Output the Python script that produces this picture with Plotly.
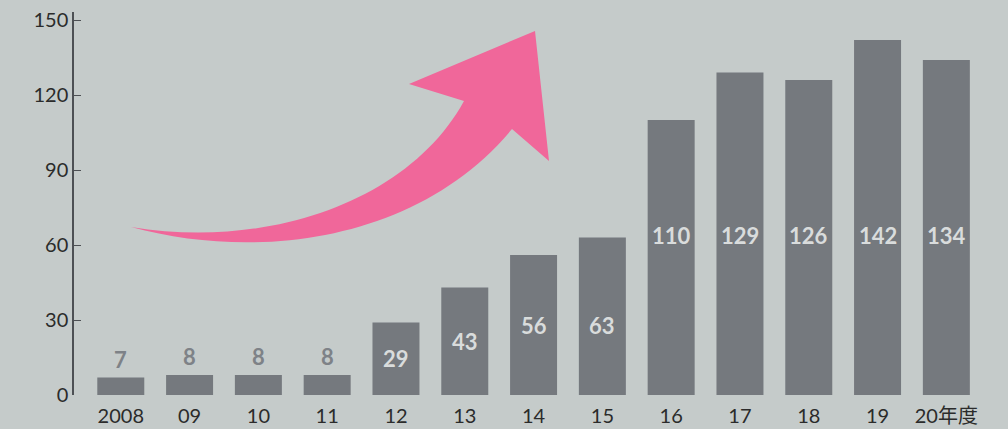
import plotly.graph_objects as go

# ---- data ----
categories = ["2008", "09", "10", "11", "12", "13", "14", "15", "16", "17", "18", "19", "20年度"]
values = [7, 8, 8, 8, 29, 43, 56, 63, 110, 129, 126, 142, 134]
y_ticks = [0, 30, 60, 90, 120, 150]

# ---- style ----
BG = "#c5cbca"
BAR = "#75797e"
IN_TXT = "#d9dcdc"
OUT_TXT = "#7e8287"
PINK = "#f0679a"
FONT = "Lato, 'Noto Sans CJK JP', sans-serif"

W, H = 1008, 429
ML, MR, MT, MB = 74, 0, 12, 34
PW, PH = W - ML - MR, H - MT - MB

fig = go.Figure()
fig.add_trace(go.Bar(x=categories, y=values, marker=dict(color=BAR, line=dict(width=0)),
                     hoverinfo="skip"))

# value labels
annotations = []
for i, v in enumerate(values):
    if v < 20:
        annotations.append(dict(x=i, y=v, xref="x", yref="y", yanchor="bottom", yshift=3,
                                text=str(v), showarrow=False,
                                font=dict(family=FONT, size=22, color=OUT_TXT, weight="bold")))
    else:
        if v < 60:
            ly = v / 2
        elif v < 100:
            ly = 28
        else:
            ly = 64
        annotations.append(dict(x=i, y=ly, xref="x", yref="y", yanchor="middle",
                                text=str(v), showarrow=False,
                                font=dict(family=FONT, size=22, color=IN_TXT, weight="bold")))


def P(px, py):
    return f"{(px - ML) / PW:.5f},{(H - MB - py) / PH:.5f}"


arrow_path = (
    "M " + P(131, 227)
    + " C " + P(260, 262) + " " + P(420, 240) + " " + P(512, 129)
    + " L " + P(549, 161)
    + " L " + P(535, 31)
    + " L " + P(409, 84)
    + " L " + P(464, 101)
    + " C " + P(410, 200) + " " + P(270, 250) + " " + P(131, 227)
    + " Z"
)

fig.update_layout(
    width=W, height=H,
    margin=dict(l=ML, r=MR, t=MT, b=MB),
    paper_bgcolor=BG, plot_bgcolor=BG,
    bargap=0.317,
    showlegend=False,
    annotations=annotations,
    shapes=[dict(type="path", xref="paper", yref="paper", path=arrow_path,
                 fillcolor=PINK, line=dict(width=0), layer="above")],
    xaxis=dict(type="category", range=[-0.68, 12.896], showgrid=False, zeroline=False,
               showline=False, ticks="", tickfont=dict(family=FONT, size=20, color="#2b2b2b"),
               ticklabelstandoff=7, fixedrange=True),
    yaxis=dict(range=[0, 153.2], tickvals=y_ticks, showgrid=False, zeroline=False,
               showline=True, linecolor="#4d5054", linewidth=1.5,
               ticks="inside", ticklen=7, tickwidth=1.2, tickcolor="#4d5054",
               tickfont=dict(family=FONT, size=20, color="#2b2b2b"),
               ticklabelstandoff=0, fixedrange=True),
)

fig.write_html("out.html", config={"displayModeBar": False},
               post_script="document.body.style.margin='0';document.body.style.padding='0';"
                           "document.body.style.background='" + BG + "';")
